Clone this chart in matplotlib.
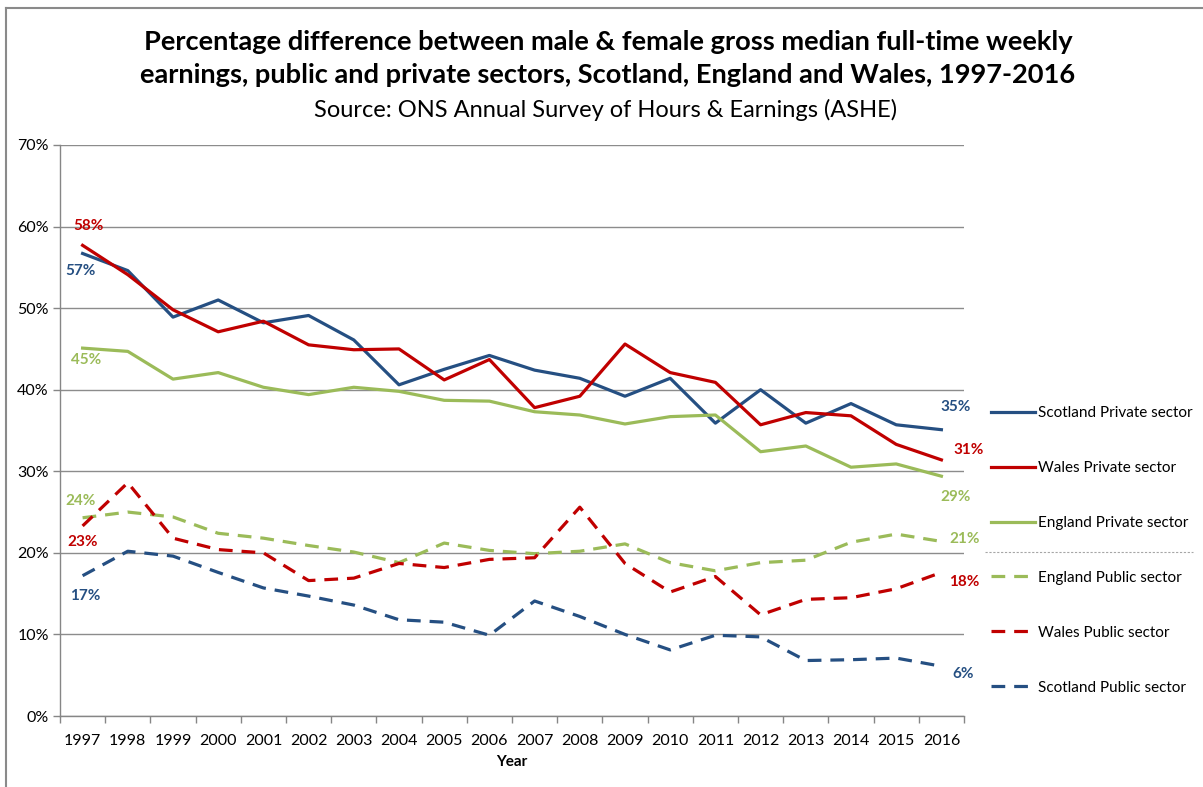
import numpy as np
import matplotlib.pyplot as plt
from matplotlib.lines import Line2D

plt.rcParams['font.family'] = ['Lato', 'DejaVu Sans']

years = list(range(1997, 2017))

scotland_private = [56.7, 54.6, 48.9, 51.0, 48.2, 49.1, 46.1, 40.6, 42.5, 44.2,
                    42.4, 41.4, 39.2, 41.4, 35.9, 40.0, 35.9, 38.3, 35.7, 35.1]
wales_private = [57.7, 54.1, 49.8, 47.1, 48.4, 45.5, 44.9, 45.0, 41.2, 43.7,
                 37.8, 39.2, 45.6, 42.1, 40.9, 35.7, 37.2, 36.8, 33.3, 31.4]
england_private = [45.1, 44.7, 41.3, 42.1, 40.3, 39.4, 40.3, 39.8, 38.7, 38.6,
                   37.3, 36.9, 35.8, 36.7, 36.9, 32.4, 33.1, 30.5, 30.9, 29.4]
england_public = [24.3, 25.0, 24.4, 22.4, 21.8, 20.9, 20.1, 18.8, 21.2, 20.3,
                  19.9, 20.2, 21.1, 18.8, 17.8, 18.8, 19.1, 21.3, 22.3, 21.4]
wales_public = [23.3, 28.6, 21.8, 20.4, 20.0, 16.6, 16.9, 18.7, 18.2, 19.2,
                19.4, 25.6, 18.7, 15.2, 17.1, 12.4, 14.3, 14.5, 15.6, 17.6]
scotland_public = [17.2, 20.2, 19.6, 17.6, 15.7, 14.7, 13.6, 11.8, 11.5, 9.9,
                   14.1, 12.2, 10.0, 8.1, 9.9, 9.7, 6.8, 6.9, 7.1, 6.1]

BLUE = '#254F82'
RED = '#C00000'
GREEN = '#9BBB59'
DASH = (0, (4.3, 2.8))

# (label, values, colour, linestyle, first-label offset px, last-label offset px)
series = [
    ('Scotland Private sector', scotland_private, BLUE, '-', (-2, -18), (14, 23)),
    ('Wales Private sector', wales_private, RED, '-', (6, 19), (27, 10)),
    ('England Private sector', england_private, GREEN, '-', (4, -12), (14, -21)),
    ('England Public sector', england_public, GREEN, DASH, (-2, 17), (23, 2)),
    ('Wales Public sector', wales_public, RED, DASH, (0, -16), (23, -10)),
    ('Scotland Public sector', scotland_public, BLUE, DASH, (3, -20), (22, -8)),
]

fig = plt.figure(figsize=(12.03, 7.87), dpi=100)
ax = fig.add_axes([60 / 1203, 1 - 716 / 787, 904 / 1203, 571 / 787])

x = np.arange(len(years))
handles = {}
for name, vals, color, ls, off0, off1 in series:
    line, = ax.plot(x, vals, color=color, linestyle=ls, linewidth=2.3,
                    solid_joinstyle='round', dash_capstyle='butt', zorder=3,
                    label=name)
    handles[name] = line
    for idx, off in ((0, off0), (len(vals) - 1, off1)):
        ax.annotate(f'{int(vals[idx] + 0.5)}%', (x[idx], vals[idx]),
                    xytext=off, textcoords='offset pixels',
                    ha='center', va='center', color=color,
                    fontsize=11, fontweight='bold', zorder=5)

ax.set_xlim(-0.5, len(years) - 0.5)
ax.set_ylim(0, 70)
ax.set_yticks(np.arange(0, 71, 10))
ax.set_yticklabels([f'{v}%' for v in range(0, 71, 10)])
ax.set_xticks(x)
ax.set_xticklabels([str(y) for y in years])
ax.set_xticks(np.arange(-0.5, len(years)), minor=True)
ax.tick_params(axis='x', which='major', length=0, pad=13, labelsize=11.5)
ax.tick_params(axis='x', which='minor', length=5, color='#868686', width=1)
ax.tick_params(axis='y', length=5, color='#868686', width=1, pad=3,
               labelsize=11.5)
ax.grid(axis='y', color='#8c8c8c', linewidth=1, zorder=0)
for side in ('top', 'right'):
    ax.spines[side].set_visible(False)
for side in ('left', 'bottom'):
    ax.spines[side].set_color('#868686')
    ax.spines[side].set_linewidth(1)
ax.set_xlabel('Year', fontsize=11, fontweight='bold', labelpad=5)

order = ['Scotland Private sector', 'Wales Private sector',
         'England Private sector', 'England Public sector',
         'Wales Public sector', 'Scotland Public sector']
ax.legend([handles[n] for n in order], order, loc='upper left',
          bbox_to_anchor=(991 / 1203, 1 - 406 / 787),
          bbox_transform=fig.transFigure, frameon=False, fontsize=11,
          handlelength=2.85, handletextpad=0.25, labelspacing=2.68,
          borderpad=0, borderaxespad=0)

# thin dotted divider inside the legend area
fig.add_artist(Line2D([985 / 1203, 1193 / 1203], [1 - 552 / 787] * 2,
                      color='#a6a6a6', linestyle=(0, (2, 1.5)), linewidth=0.8))

# chart frame (top and left edges)
fig.add_artist(Line2D([6 / 1203, 1], [1 - 8 / 787] * 2, color='#8a8a8a',
                      linewidth=1.5))
fig.add_artist(Line2D([6 / 1203] * 2, [0, 1 - 8 / 787], color='#8a8a8a',
                      linewidth=1.5))

fig.text(608 / 1203, 1 - 42 / 787,
         'Percentage difference between male & female gross median full-time weekly',
         ha='center', va='center', fontsize=19.6, fontweight='bold')
fig.text(608 / 1203, 1 - 75 / 787,
         'earnings, public and private sectors, Scotland, England and Wales, 1997-2016',
         ha='center', va='center', fontsize=19.6, fontweight='bold')
fig.text(606 / 1203, 1 - 110 / 787,
         'Source: ONS Annual Survey of Hours & Earnings (ASHE)',
         ha='center', va='center', fontsize=17)

fig.savefig('out.png', dpi=100)
